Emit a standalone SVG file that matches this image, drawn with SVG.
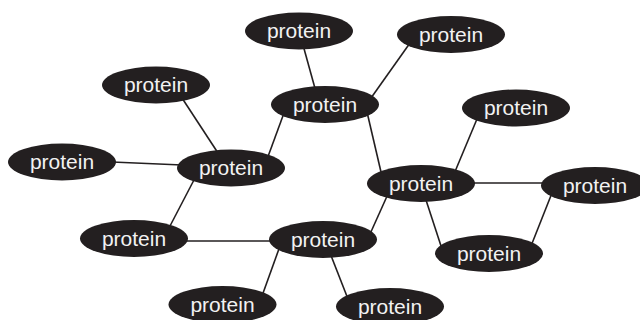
<svg xmlns="http://www.w3.org/2000/svg" width="640" height="320" viewBox="0 0 640 320">
<style>
.n ellipse{fill:#231f20}
.n text{fill:#f2f2f2;font-family:"Liberation Sans",Arial,sans-serif;font-size:21px;text-anchor:middle}
#edges line{stroke:#231f20;stroke-width:1.6}
</style>
<rect width="640" height="320" fill="#fff"/>
<g id="edges">
<line x1="303" y1="45" x2="316" y2="92"/>
<line x1="410" y1="43" x2="371" y2="98"/>
<line x1="284" y1="113" x2="266" y2="162"/>
<line x1="367" y1="112" x2="381" y2="172"/>
<line x1="182" y1="98" x2="218" y2="153"/>
<line x1="112" y1="162" x2="182" y2="165"/>
<line x1="195" y1="178" x2="170" y2="226"/>
<line x1="184" y1="241" x2="273" y2="241"/>
<line x1="370" y1="234" x2="388" y2="194"/>
<line x1="280" y1="246" x2="262" y2="296"/>
<line x1="330" y1="253" x2="348" y2="299"/>
<line x1="477" y1="119" x2="454" y2="174"/>
<line x1="470" y1="183" x2="546" y2="183"/>
<line x1="425" y1="197" x2="442" y2="249"/>
<line x1="531" y1="246" x2="552" y2="193"/>
</g>
<g id="n1" class="n"><ellipse cx="299" cy="31" rx="54" ry="18.5"/><text x="299" y="38">protein</text></g>
<g id="n2" class="n"><ellipse cx="451" cy="34.5" rx="54" ry="18.5"/><text x="451" y="41.5">protein</text></g>
<g id="n3" class="n"><ellipse cx="156" cy="85" rx="54" ry="18.5"/><text x="156" y="92">protein</text></g>
<g id="n4" class="n"><ellipse cx="325" cy="104.5" rx="54" ry="18.5"/><text x="325" y="111.5">protein</text></g>
<g id="n5" class="n"><ellipse cx="516" cy="108" rx="54" ry="18.5"/><text x="516" y="115">protein</text></g>
<g id="n6" class="n"><ellipse cx="62" cy="162" rx="54" ry="18.5"/><text x="62" y="169">protein</text></g>
<g id="n7" class="n"><ellipse cx="231" cy="168" rx="54" ry="18.5"/><text x="231" y="175">protein</text></g>
<g id="n8" class="n"><ellipse cx="421" cy="183.5" rx="54" ry="18.5"/><text x="421" y="190.5">protein</text></g>
<g id="n9" class="n"><ellipse cx="595" cy="185.5" rx="54" ry="18.5"/><text x="595" y="192.5">protein</text></g>
<g id="n10" class="n"><ellipse cx="134" cy="238.5" rx="54" ry="18.5"/><text x="134" y="245.5">protein</text></g>
<g id="n11" class="n"><ellipse cx="323" cy="239.5" rx="54" ry="18.5"/><text x="323" y="246.5">protein</text></g>
<g id="n12" class="n"><ellipse cx="489" cy="253.5" rx="54" ry="18.5"/><text x="489" y="260.5">protein</text></g>
<g id="n13" class="n"><ellipse cx="222.5" cy="304.5" rx="54" ry="18.5"/><text x="222.5" y="311.5">protein</text></g>
<g id="n14" class="n"><ellipse cx="390" cy="306.5" rx="54" ry="18.5"/><text x="390" y="313.5">protein</text></g>
</svg>
